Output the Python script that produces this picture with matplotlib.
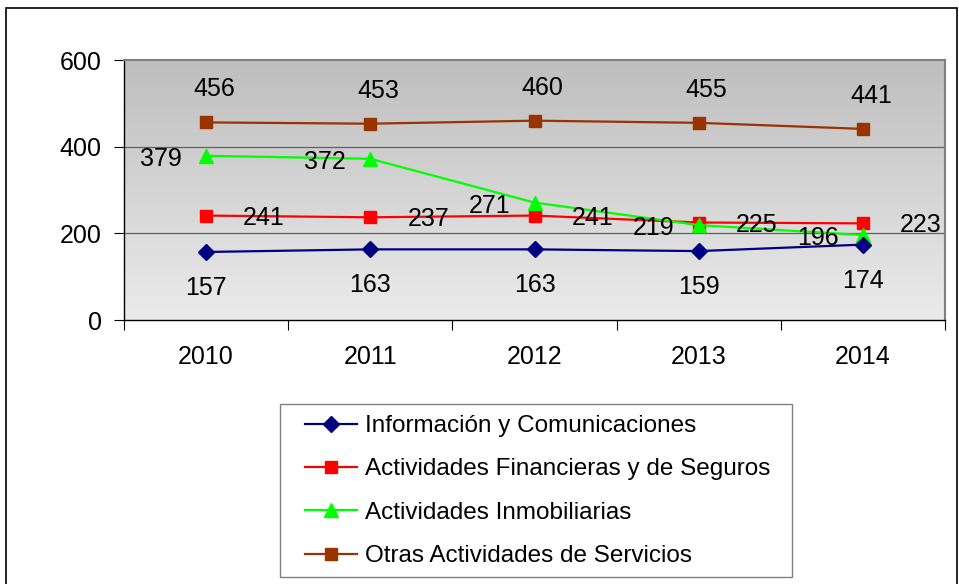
import numpy as np
import matplotlib
matplotlib.use("Agg")
import matplotlib.pyplot as plt
from matplotlib.patches import Rectangle

plt.rcParams['font.family'] = ['Liberation Sans', 'DejaVu Sans']

# data
years = ["2010", "2011", "2012", "2013", "2014"]
info_com = [157, 163, 163, 159, 174]
financieras = [241, 237, 241, 225, 223]
inmobiliarias = [379, 372, 271, 219, 196]
otras = [456, 453, 460, 455, 441]

names = ["Información y Comunicaciones",
         "Actividades Financieras y de Seguros",
         "Actividades Inmobiliarias",
         "Otras Actividades de Servicios"]

fig = plt.figure(figsize=(9.59, 5.84), dpi=100)
ax = fig.add_axes([124 / 959, 1 - 320 / 584, 821 / 959, 260 / 584])

# outer border
fig.patches.append(Rectangle((6 / 959, -0.05), 951 / 959, 1.05 - 8 / 584,
                             transform=fig.transFigure, fill=False,
                             edgecolor="black", linewidth=1.2))
# legend frame
fig.patches.append(Rectangle((280 / 959, 1 - 577 / 584), 512 / 959, 173 / 584,
                             transform=fig.transFigure, fill=False,
                             edgecolor="#808080", linewidth=1.0))

# gradient background (darker at top)
grad = np.linspace(0, 1, 256).reshape(-1, 1)
cmap = matplotlib.colors.LinearSegmentedColormap.from_list("g", ["#bebebe", "#ebebeb"])
ax.imshow(grad, cmap=cmap, aspect="auto", extent=[0, 1, 0, 1], origin="upper",
          transform=ax.transAxes, zorder=0)

x = np.arange(len(years))
ax.set_xlim(-0.5, 4.5)
ax.set_ylim(0, 600)

for yv in [200, 400]:
    ax.axhline(yv, color="#606060", linewidth=0.9, zorder=1)

ax.plot(x, info_com, color="#000080", marker="D", markersize=8, linewidth=1.6,
        label=names[0], zorder=5)
ax.plot(x, financieras, color="#ff0000", marker="s", markersize=9, linewidth=1.6,
        label=names[1], zorder=4)
ax.plot(x, inmobiliarias, color="#00ff00", marker="^", markersize=10, linewidth=1.6,
        label=names[2], zorder=4)
ax.plot(x, otras, color="#993300", marker="s", markersize=9, linewidth=1.6,
        label=names[3], zorder=4)

fs = 18
for i in x:
    ax.annotate(str(info_com[i]), (i, info_com[i]), xytext=(0, -36),
                textcoords="offset pixels", ha="center", va="center", fontsize=fs, zorder=6)
    ax.annotate(str(financieras[i]), (i, financieras[i]), xytext=(58, -2),
                textcoords="offset pixels", ha="center", va="center", fontsize=fs, zorder=6)
    ax.annotate(str(inmobiliarias[i]), (i, inmobiliarias[i]), xytext=(-45, -3),
                textcoords="offset pixels", ha="center", va="center", fontsize=fs, zorder=6)
    ax.annotate(str(otras[i]), (i, otras[i]), xytext=(8, 33),
                textcoords="offset pixels", ha="center", va="center", fontsize=fs, zorder=6)

ax.set_yticks([0, 200, 400, 600])
ax.tick_params(axis="y", labelsize=fs, length=7, width=0.8, pad=9)
ax.set_xticks(x)
ax.set_xticklabels(years)
ax.tick_params(axis="x", which="major", length=0, labelsize=fs, pad=18)
ax.set_xticks(np.arange(-0.5, 5, 1), minor=True)
ax.tick_params(axis="x", which="minor", length=7, width=0.8)

ax.spines["top"].set_color("#808080")
ax.spines["right"].set_color("#808080")
ax.spines["top"].set_linewidth(1.5)
ax.spines["right"].set_linewidth(1.5)
ax.spines["left"].set_linewidth(1.0)
ax.spines["bottom"].set_linewidth(1.0)

leg = fig.legend(loc="upper left", bbox_to_anchor=(305 / 959, 1 - 415 / 584),
                 fontsize=17.5, frameon=False,
                 handlelength=2.15, handletextpad=0.3, labelspacing=0.88,
                 borderpad=0, borderaxespad=0)

fig.savefig("out.png", dpi=100)
